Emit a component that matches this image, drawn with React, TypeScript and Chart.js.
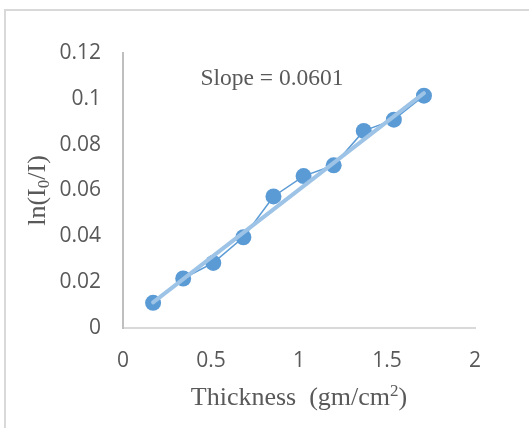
import React, { useEffect, useRef } from "react";
import { Chart, registerables } from "chart.js";

Chart.register(...registerables);

// Data
const thickness = [0.171, 0.342, 0.513, 0.684, 0.855, 1.026, 1.197, 1.368, 1.539, 1.71];
const lnRatio = [0.011, 0.0216, 0.0284, 0.0396, 0.0574, 0.0663, 0.071, 0.086, 0.0909, 0.1014];
const trendX = [0.171, 1.71];
const trendY = [0.0112, 0.1025];
const xTickValues = [0, 0.5, 1, 1.5, 2];
const yTickValues = [0, 0.02, 0.04, 0.06, 0.08, 0.1, 0.12];
const slopeLabel = "Slope = 0.0601";
const xTitleMain = "Thickness  (gm/cm";
const xTitleSup = "2";
const xTitleEnd = ")";
const yTitleParts = ["ln(I", "0", "/I)"];

const SERIF = "'Liberation Serif', 'Times New Roman', serif";
const SANS = "'Open Sans', 'Noto Sans', sans-serif";
const TEXT = "#595959";

const fmt = (v: number) => String(Number(Number(v).toFixed(3)));

const decorPlugin = {
  id: "decor",
  beforeDraw(chart: any) {
    const ctx = chart.ctx;
    ctx.save();
    ctx.fillStyle = "#ffffff";
    ctx.fillRect(0, 0, chart.width, chart.height);
    ctx.strokeStyle = "#d9d9d9";
    ctx.lineWidth = 2;
    ctx.beginPath();
    ctx.moveTo(5, chart.height + 5);
    ctx.lineTo(5, 10);
    ctx.lineTo(chart.width + 5, 10);
    ctx.stroke();
    ctx.restore();
  },
  afterDraw(chart: any) {
    const ctx = chart.ctx;
    const area = chart.chartArea;
    ctx.save();
    ctx.fillStyle = TEXT;
    ctx.textBaseline = "alphabetic";

    // Slope annotation
    ctx.font = `23.5px ${SERIF}`;
    ctx.textAlign = "center";
    ctx.fillText(slopeLabel, 272, 85);

    // X title with superscript
    const big = `26px ${SERIF}`;
    const small = `17px ${SERIF}`;
    ctx.textAlign = "left";
    ctx.font = big;
    const w1 = ctx.measureText(xTitleMain).width;
    const w3 = ctx.measureText(xTitleEnd).width;
    ctx.font = small;
    const w2 = ctx.measureText(xTitleSup).width;
    const total = w1 + w2 + w3;
    const cx = (area.left + area.right) / 2;
    let x = cx - total / 2;
    const by = 405;
    ctx.font = big;
    ctx.fillText(xTitleMain, x, by);
    x += w1;
    ctx.font = small;
    ctx.fillText(xTitleSup, x, by - 9);
    x += w2;
    ctx.font = big;
    ctx.fillText(xTitleEnd, x, by);

    // Y title with subscript (rotated)
    ctx.translate(45, (area.top + area.bottom) / 2);
    ctx.rotate(-Math.PI / 2);
    ctx.font = big;
    const a = ctx.measureText(yTitleParts[0]).width;
    const c = ctx.measureText(yTitleParts[2]).width;
    ctx.font = small;
    const b = ctx.measureText(yTitleParts[1]).width;
    let yx = -(a + b + c) / 2;
    ctx.font = big;
    ctx.fillText(yTitleParts[0], yx, 0);
    yx += a;
    ctx.font = small;
    ctx.fillText(yTitleParts[1], yx, 4);
    yx += b;
    ctx.font = big;
    ctx.fillText(yTitleParts[2], yx, 0);
    ctx.restore();
  },
};

export default function App() {
  const ref = useRef<HTMLCanvasElement | null>(null);

  useEffect(() => {
    if (!ref.current) return;
    const chart = new Chart(ref.current, {
      type: "scatter",
      data: {
        datasets: [
          {
            label: "Trend",
            data: trendX.map((x, i) => ({ x, y: trendY[i] })),
            showLine: true,
            borderColor: "#9dc3e6",
            borderWidth: 4,
            pointRadius: 0,
            pointHoverRadius: 0,
            borderCapStyle: "round",
          },
          {
            label: "ln(I0/I)",
            data: thickness.map((x, i) => ({ x, y: lnRatio[i] })),
            showLine: true,
            borderColor: "#5b9bd5",
            borderWidth: 1.5,
            pointRadius: 8,
            pointBackgroundColor: "#5b9bd5",
            pointBorderColor: "#5b9bd5",
            pointBorderWidth: 0,
          },
        ],
      },
      options: {
        responsive: false,
        animation: false,
        layout: { padding: { top: 53, right: 54, left: 0, bottom: 0 } },
        plugins: {
          legend: { display: false },
          tooltip: { enabled: false },
          title: { display: false },
        },
        scales: {
          x: {
            type: "linear",
            min: 0,
            max: 2,
            afterBuildTicks: (scale: any) => {
              scale.ticks = xTickValues.map((v) => ({ value: v }));
            },
            afterFit: (scale: any) => {
              scale.height = 100;
            },
            ticks: {
              callback: (v: any) => fmt(v),
              font: { family: SANS, size: 21 },
              color: TEXT,
              padding: 20,
              maxRotation: 0,
            },
            grid: { display: false, drawTicks: false },
            border: { display: true, color: "#d9d9d9", width: 2 },
          },
          y: {
            type: "linear",
            min: 0,
            max: 0.12,
            afterBuildTicks: (scale: any) => {
              scale.ticks = yTickValues.map((v) => ({ value: v }));
            },
            afterFit: (scale: any) => {
              scale.width = 123;
            },
            ticks: {
              callback: (v: any) => fmt(v),
              font: { family: SANS, size: 21 },
              color: TEXT,
              padding: 22,
            },
            grid: { display: false, drawTicks: false },
            border: { display: true, color: "#bfbfbf", width: 2 },
          },
        },
      },
      plugins: [decorPlugin],
    });
    return () => chart.destroy();
  }, []);

  return (
    <div
      style={{
        position: "fixed",
        left: 0,
        top: 0,
        width: 529,
        height: 428,
        overflow: "hidden",
        background: "#fff",
      }}
    >
      <canvas ref={ref} width={529} height={428} style={{ width: 529, height: 428, display: "block" }} />
    </div>
  );
}
